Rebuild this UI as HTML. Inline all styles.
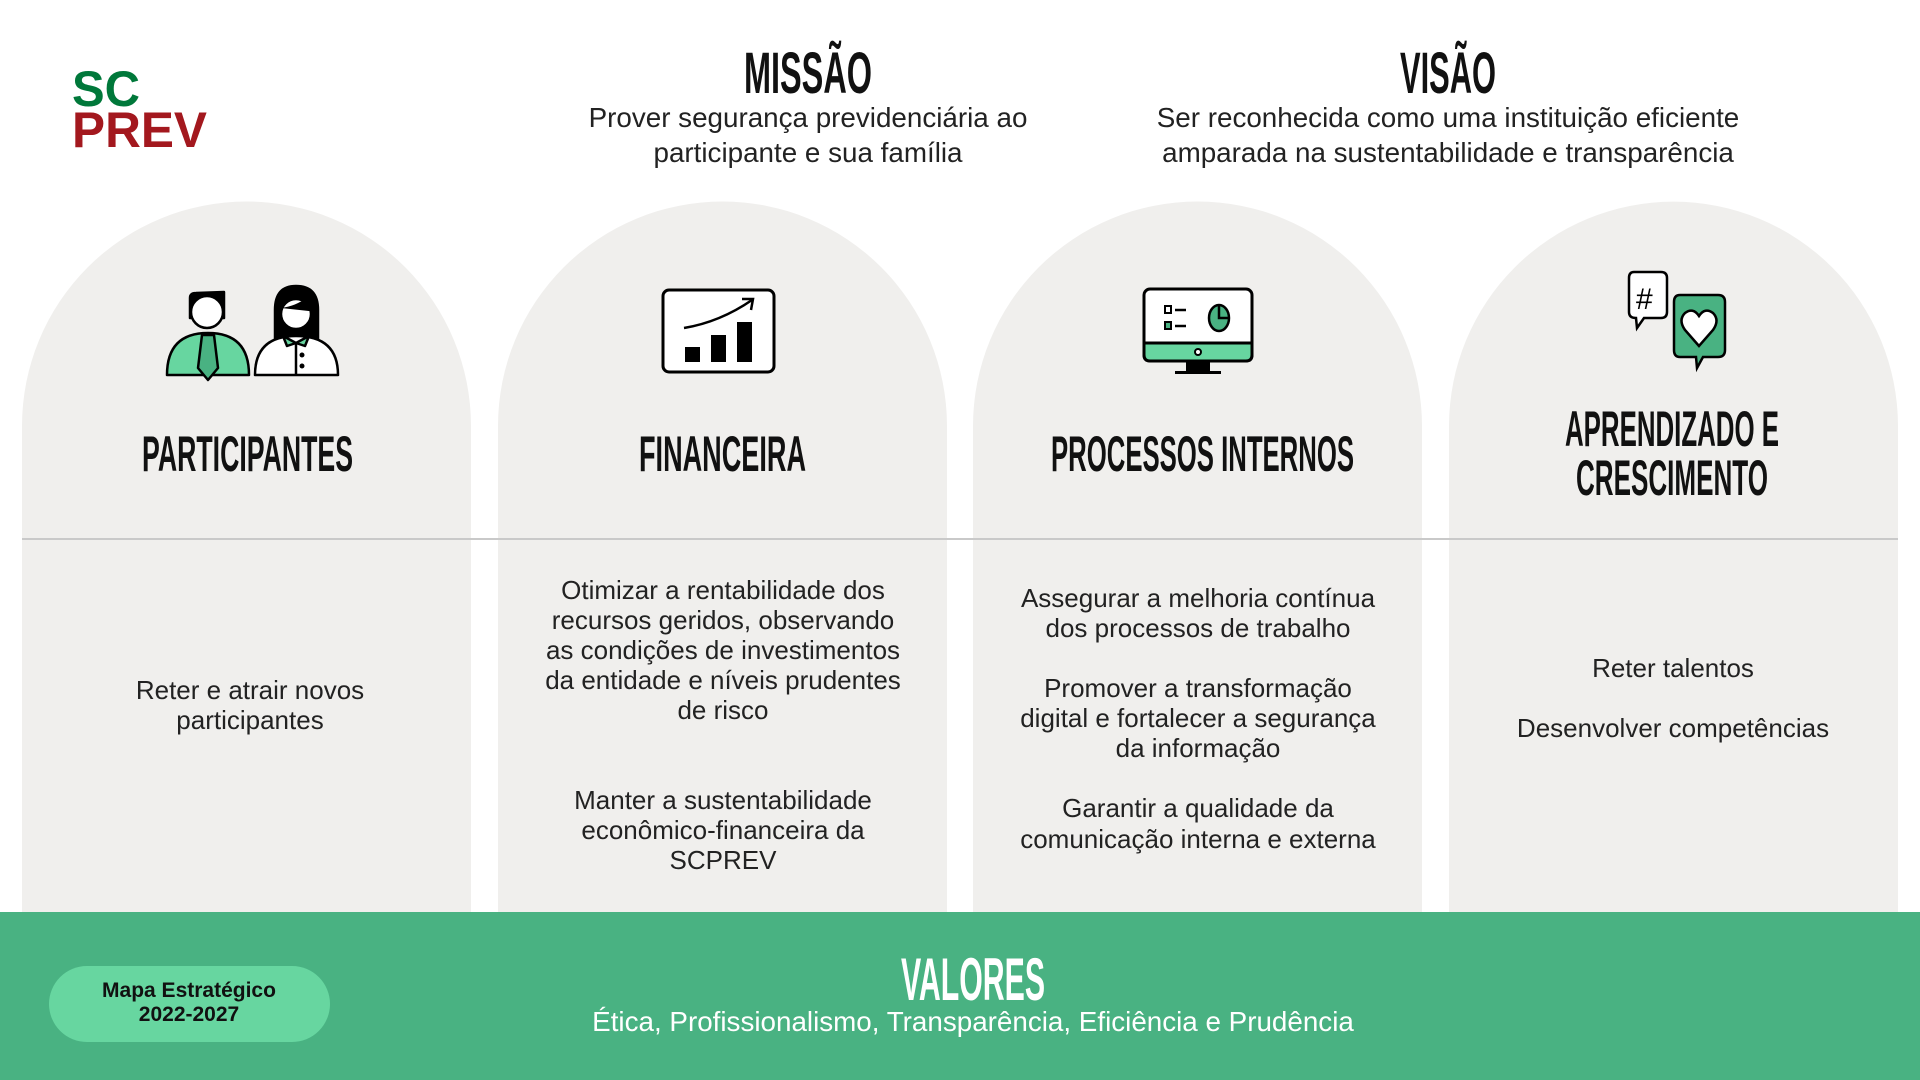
<!DOCTYPE html>
<html><head><meta charset="utf-8"><style>
html,body{margin:0;padding:0;background:#fff;}
svg{display:block;}
.c{font-family:"Liberation Sans",sans-serif;font-weight:bold;fill:#111;}
.b{font-family:"Liberation Sans",sans-serif;font-size:26px;fill:#222;text-anchor:middle;}
</style></head><body>
<svg width="1920" height="1080" viewBox="0 0 1920 1080" xmlns="http://www.w3.org/2000/svg">
<rect width="1920" height="1080" fill="#fff"/>
<g fill="#f0efed">
<path d="M22,1080 V426 A224.5,224.5 0 0 1 471,426 V1080 Z"/>
<path d="M498,1080 V426 A224.5,224.5 0 0 1 947,426 V1080 Z"/>
<path d="M973,1080 V426 A224.5,224.5 0 0 1 1422,426 V1080 Z"/>
<path d="M1449,1080 V426 A224.5,224.5 0 0 1 1898,426 V1080 Z"/>
</g>
<line x1="22" y1="539" x2="1898" y2="539" stroke="#c9c9c9" stroke-width="2"/>
<text x="72" y="106" class="c" style="fill:#00783a;font-size:50px;font-weight:900" textLength="68" lengthAdjust="spacingAndGlyphs">SC</text>
<text x="72" y="147" class="c" style="fill:#a3181e;font-size:50px;font-weight:900" textLength="135" lengthAdjust="spacingAndGlyphs">PREV</text>
<text x="744" y="93" class="c" style="font-size:58px" textLength="128" lengthAdjust="spacingAndGlyphs">MISSÃO</text>
<text x="808" y="127" class="b" style="font-size:27.8px">Prover segurança previdenciária ao</text>
<text x="808" y="162" class="b" style="font-size:27.8px">participante e sua família</text>
<text x="1400" y="93" class="c" style="font-size:58px" textLength="96" lengthAdjust="spacingAndGlyphs">VISÃO</text>
<text x="1448" y="127" class="b" style="font-size:27.8px">Ser reconhecida como uma instituição eficiente</text>
<text x="1448" y="162" class="b" style="font-size:27.8px">amparada na sustentabilidade e transparência</text>
<text x="142" y="471" class="c" style="font-size:50px" textLength="211" lengthAdjust="spacingAndGlyphs">PARTICIPANTES</text>
<text x="639" y="471" class="c" style="font-size:50px" textLength="167" lengthAdjust="spacingAndGlyphs">FINANCEIRA</text>
<text x="1051" y="471" class="c" style="font-size:50px" textLength="303" lengthAdjust="spacingAndGlyphs">PROCESSOS INTERNOS</text>
<text x="1565" y="446" class="c" style="font-size:50px" textLength="214" lengthAdjust="spacingAndGlyphs">APRENDIZADO E</text>
<text x="1576" y="495" class="c" style="font-size:50px" textLength="192" lengthAdjust="spacingAndGlyphs">CRESCIMENTO</text>
<text class="b" x="250" y="699">Reter e atrair novos</text>
<text class="b" x="250" y="729">participantes</text>
<text class="b" x="723" y="599">Otimizar a rentabilidade dos</text>
<text class="b" x="723" y="629">recursos geridos, observando</text>
<text class="b" x="723" y="659">as condições de investimentos</text>
<text class="b" x="723" y="689">da entidade e níveis prudentes</text>
<text class="b" x="723" y="719">de risco</text>
<text class="b" x="723" y="809">Manter a sustentabilidade</text>
<text class="b" x="723" y="839">econômico-financeira da</text>
<text class="b" x="723" y="869">SCPREV</text>
<text class="b" x="1198" y="607">Assegurar a melhoria contínua</text>
<text class="b" x="1198" y="637">dos processos de trabalho</text>
<text class="b" x="1198" y="697">Promover a transformação</text>
<text class="b" x="1198" y="727">digital e fortalecer a segurança</text>
<text class="b" x="1198" y="757">da informação</text>
<text class="b" x="1198" y="817">Garantir a qualidade da</text>
<text class="b" x="1198" y="848">comunicação interna e externa</text>
<text class="b" x="1673" y="677">Reter talentos</text>
<text class="b" x="1673" y="737">Desenvolver competências</text>
<rect x="0" y="912" width="1920" height="168" fill="#49b282"/>
<rect x="49" y="966" width="281" height="76" rx="38" fill="#67d6a0"/>
<text x="189" y="997" style="font-family:'Liberation Sans',sans-serif;font-weight:bold;font-size:21px;fill:#111;text-anchor:middle">Mapa Estratégico</text>
<text x="189" y="1021" style="font-family:'Liberation Sans',sans-serif;font-weight:bold;font-size:21px;fill:#111;text-anchor:middle">2022-2027</text>
<text x="901" y="1000" class="c" style="font-size:60px;fill:#fff" textLength="144" lengthAdjust="spacingAndGlyphs">VALORES</text>
<text x="973" y="1031" class="b" style="font-size:27.8px;fill:#fff">Ética, Profissionalismo, Transparência, Eficiência e Prudência</text>
<!-- people icon -->
<g stroke="#000" stroke-width="2.5" stroke-linejoin="round">
<path d="M167,375 Q167,333 208,333 Q249,333 249,375 Z" fill="#67d6a0"/>
<path d="M202,335 L214,335 L218,368 L208,380 L198,368 Z" fill="#49b282"/>
<path d="M190,318 V298 Q190,293 196,293 L224,292 V318 Z" fill="#000"/>
<circle cx="207" cy="312" r="16" fill="#fff"/>
<path d="M275,340 V310 Q275,286 296,286 Q318,286 318,310 V340 Z" fill="#000"/>
<circle cx="296" cy="314" r="15" fill="#fff"/>
<path d="M281,308 Q296,306 306,298 Q311,310 318,312" fill="#000" stroke="none"/>
<path d="M255,375 Q255,336 296,336 Q338,336 338,375 Z" fill="#fff"/>
<path d="M283,336 L296,343 L309,336 L305,346 L296,343 L287,346 Z" fill="#67d6a0"/>
<line x1="296" y1="343" x2="296" y2="375"/>
</g>
<circle cx="302" cy="355" r="2.5"/><circle cx="302" cy="366" r="2.5"/>
<!-- chart icon -->
<rect x="663" y="290" width="111" height="82" rx="6" fill="#fff" stroke="#000" stroke-width="3"/>
<rect x="685" y="347" width="15" height="15" fill="#000"/>
<rect x="711" y="335" width="15" height="27" fill="#000"/>
<rect x="737" y="322" width="15" height="40" fill="#000"/>
<path d="M684,328 Q720,322 752,300" fill="none" stroke="#000" stroke-width="2.5"/>
<path d="M742,299 L753,299 L751,310" fill="none" stroke="#000" stroke-width="2.5"/>
<!-- monitor icon -->
<rect x="1144" y="289" width="108" height="72" rx="6" fill="#fff" stroke="#000" stroke-width="3"/>
<path d="M1144,343 H1252 V355 Q1252,361 1246,361 H1150 Q1144,361 1144,355 Z" fill="#67d6a0" stroke="#000" stroke-width="3"/>
<circle cx="1198" cy="352" r="3" fill="#fff" stroke="#000" stroke-width="2"/>
<rect x="1186" y="361" width="24" height="10" fill="#000"/>
<rect x="1175" y="371" width="46" height="3" fill="#000"/>
<rect x="1165" y="306" width="6" height="7" fill="#fff" stroke="#000" stroke-width="2"/>
<rect x="1165" y="322" width="6" height="7" fill="#49b282" stroke="#000" stroke-width="2"/>
<line x1="1175" y1="310" x2="1186" y2="310" stroke="#000" stroke-width="2.5"/>
<line x1="1175" y1="326" x2="1186" y2="326" stroke="#000" stroke-width="2.5"/>
<ellipse cx="1219" cy="318" rx="10" ry="13" fill="#49b282" stroke="#000" stroke-width="2.5"/>
<path d="M1219,305 V318 H1229" fill="none" stroke="#000" stroke-width="2.5"/>
<!-- chat icon -->
<path d="M1634,272 H1661 Q1667,272 1667,278 V312 Q1667,318 1661,318 H1644 L1637,328 L1636,318 Q1629,318 1629,312 V278 Q1629,272 1634,272 Z" fill="#fff" stroke="#000" stroke-width="2.5"/>
<text x="1636" y="309" style="font-family:'Liberation Sans',sans-serif;font-size:30px;fill:#000">#</text>
<path d="M1680,295 H1718 Q1725,295 1725,302 V350 Q1725,357 1718,357 H1703 L1697,368 L1696,357 H1680 Q1674,357 1674,350 V302 Q1674,295 1680,295 Z" fill="#49b282" stroke="#000" stroke-width="2.5"/>
<path d="M1699,346 L1685,330 Q1678,320 1685,313 Q1693,307 1699,316 Q1705,307 1713,313 Q1720,320 1713,330 Z" fill="#fff" stroke="#000" stroke-width="2.5"/>
</svg>
</body></html>
